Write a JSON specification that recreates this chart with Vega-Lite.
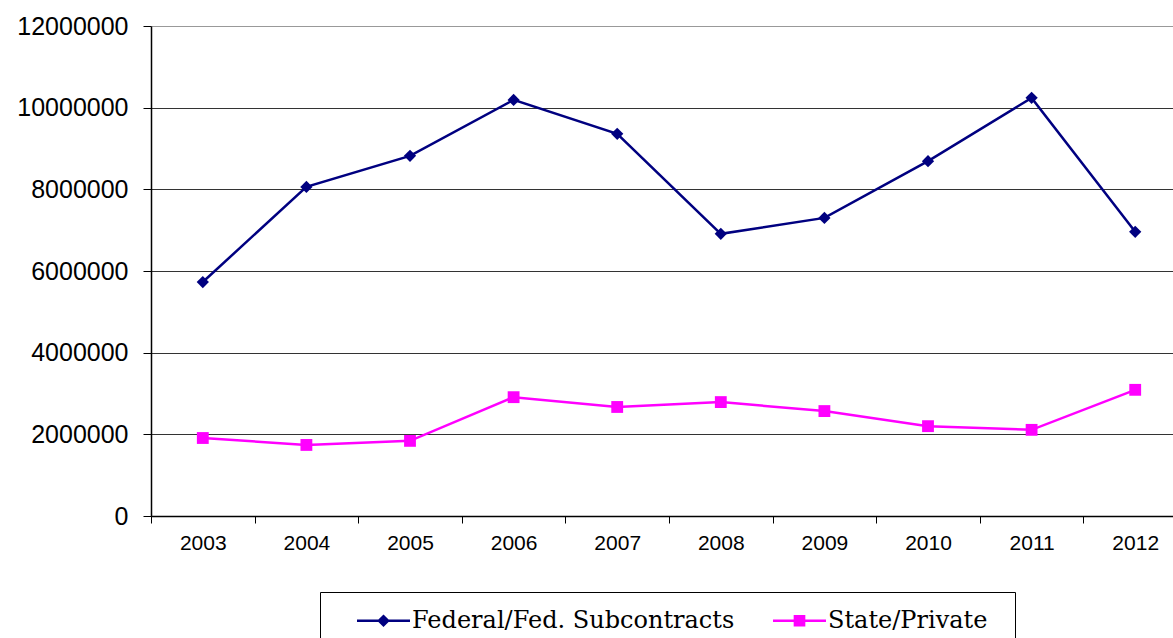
{
  "$schema": "https://vega.github.io/schema/vega-lite/v6.json",
  "autosize": {"type": "none"},
  "width": 1022,
  "height": 490,
  "padding": {"left": 151, "top": 26, "right": 0, "bottom": 122},
  "background": "white",
  "config": {"view": {"stroke": null}},
  "data": {"values": [
    {"year": "2003", "series": "Federal/Fed. Subcontracts", "value": 5730000},
    {"year": "2004", "series": "Federal/Fed. Subcontracts", "value": 8060000},
    {"year": "2005", "series": "Federal/Fed. Subcontracts", "value": 8820000},
    {"year": "2006", "series": "Federal/Fed. Subcontracts", "value": 10190000},
    {"year": "2007", "series": "Federal/Fed. Subcontracts", "value": 9360000},
    {"year": "2008", "series": "Federal/Fed. Subcontracts", "value": 6910000},
    {"year": "2009", "series": "Federal/Fed. Subcontracts", "value": 7300000},
    {"year": "2010", "series": "Federal/Fed. Subcontracts", "value": 8690000},
    {"year": "2011", "series": "Federal/Fed. Subcontracts", "value": 10240000},
    {"year": "2012", "series": "Federal/Fed. Subcontracts", "value": 6960000},
    {"year": "2003", "series": "State/Private", "value": 1910000},
    {"year": "2004", "series": "State/Private", "value": 1740000},
    {"year": "2005", "series": "State/Private", "value": 1840000},
    {"year": "2006", "series": "State/Private", "value": 2910000},
    {"year": "2007", "series": "State/Private", "value": 2670000},
    {"year": "2008", "series": "State/Private", "value": 2790000},
    {"year": "2009", "series": "State/Private", "value": 2570000},
    {"year": "2010", "series": "State/Private", "value": 2200000},
    {"year": "2011", "series": "State/Private", "value": 2110000},
    {"year": "2012", "series": "State/Private", "value": 3090000}
  ]},
  "encoding": {
    "x": {
      "field": "year", "type": "ordinal", "title": null,
      "scale": {"type": "band", "paddingInner": 0, "paddingOuter": 0, "range": [0, 1036]},
      "axis": {
        "labelAngle": 0, "tickBand": "extent", "domainColor": "#000", "tickColor": "#000",
        "domainWidth": 1.5, "tickSize": 7, "labelFont": "Liberation Sans", "labelFontSize": 21,
        "labelColor": "#000", "labelPadding": 9, "grid": false
      }
    },
    "y": {
      "field": "value", "type": "quantitative", "title": null,
      "scale": {"domain": [0, 12000000], "nice": false},
      "axis": {
        "values": [0, 2000000, 4000000, 6000000, 8000000, 10000000, 12000000],
        "format": "d", "domainColor": "#000", "domainWidth": 1.5, "tickColor": "#000", "tickSize": 8,
        "labelFont": "Liberation Sans", "labelFontSize": 25, "labelColor": "#000", "labelPadding": 15,
        "grid": true,
        "gridColor": {"condition": {"test": "datum.value === 12000000", "value": "#999999"}, "value": "#333333"},
        "gridWidth": 1.2
      }
    },
    "color": {
      "field": "series", "type": "nominal",
      "scale": {"domain": ["Federal/Fed. Subcontracts", "State/Private"], "range": ["#000080", "#FF00FF"]}
    }
  },
  "layer": [
    {
      "mark": {"type": "line", "strokeWidth": 2.5},
      "encoding": {
        "color": {
          "field": "series", "type": "nominal",
          "legend": {
            "orient": "none", "legendX": 169, "legendY": 566, "direction": "horizontal",
            "title": " ", "titleOrient": "right", "titlePadding": 26, "titleFontSize": 60,
            "padding": 2, "strokeColor": "#000", "fillColor": "#fff",
            "symbolOffset": 35, "columnPadding": 3, "labelOffset": 2,
            "labelFont": "DejaVu Serif", "labelFontSize": 24, "labelColor": "#000",
            "symbolSize": 2809, "labelLimit": 0,
            "encode": {
              "symbols": {"update": {
                "shape": {"signal": "datum.value === 'State/Private' ? 'M-1,-0.05L1,-0.05L1,0.05L-1,0.05ZM-0.22,-0.22L0.22,-0.22L0.22,0.22L-0.22,0.22Z' : 'M-1,-0.05L1,-0.05L1,0.05L-1,0.05ZM0,-0.24L0.24,0L0,0.24L-0.24,0Z'"},
                "fill": {"signal": "datum.value === 'State/Private' ? '#FF00FF' : '#000080'"},
                "stroke": {"value": null},
                "strokeWidth": {"value": 0},
                "size": {"value": 2809},
                "opacity": {"value": 1}
              }}
            }
          }
        }
      }
    },
    {
      "transform": [{"filter": "datum.series === 'Federal/Fed. Subcontracts'"}],
      "mark": {"type": "point", "filled": true, "size": 150, "opacity": 1, "shape": "diamond"},
      "encoding": {"color": {"field": "series", "type": "nominal", "legend": null}}
    },
    {
      "transform": [{"filter": "datum.series === 'State/Private'"}],
      "mark": {"type": "point", "filled": true, "size": 140, "opacity": 1, "shape": "square"},
      "encoding": {"color": {"field": "series", "type": "nominal", "legend": null}}
    }
  ]
}
